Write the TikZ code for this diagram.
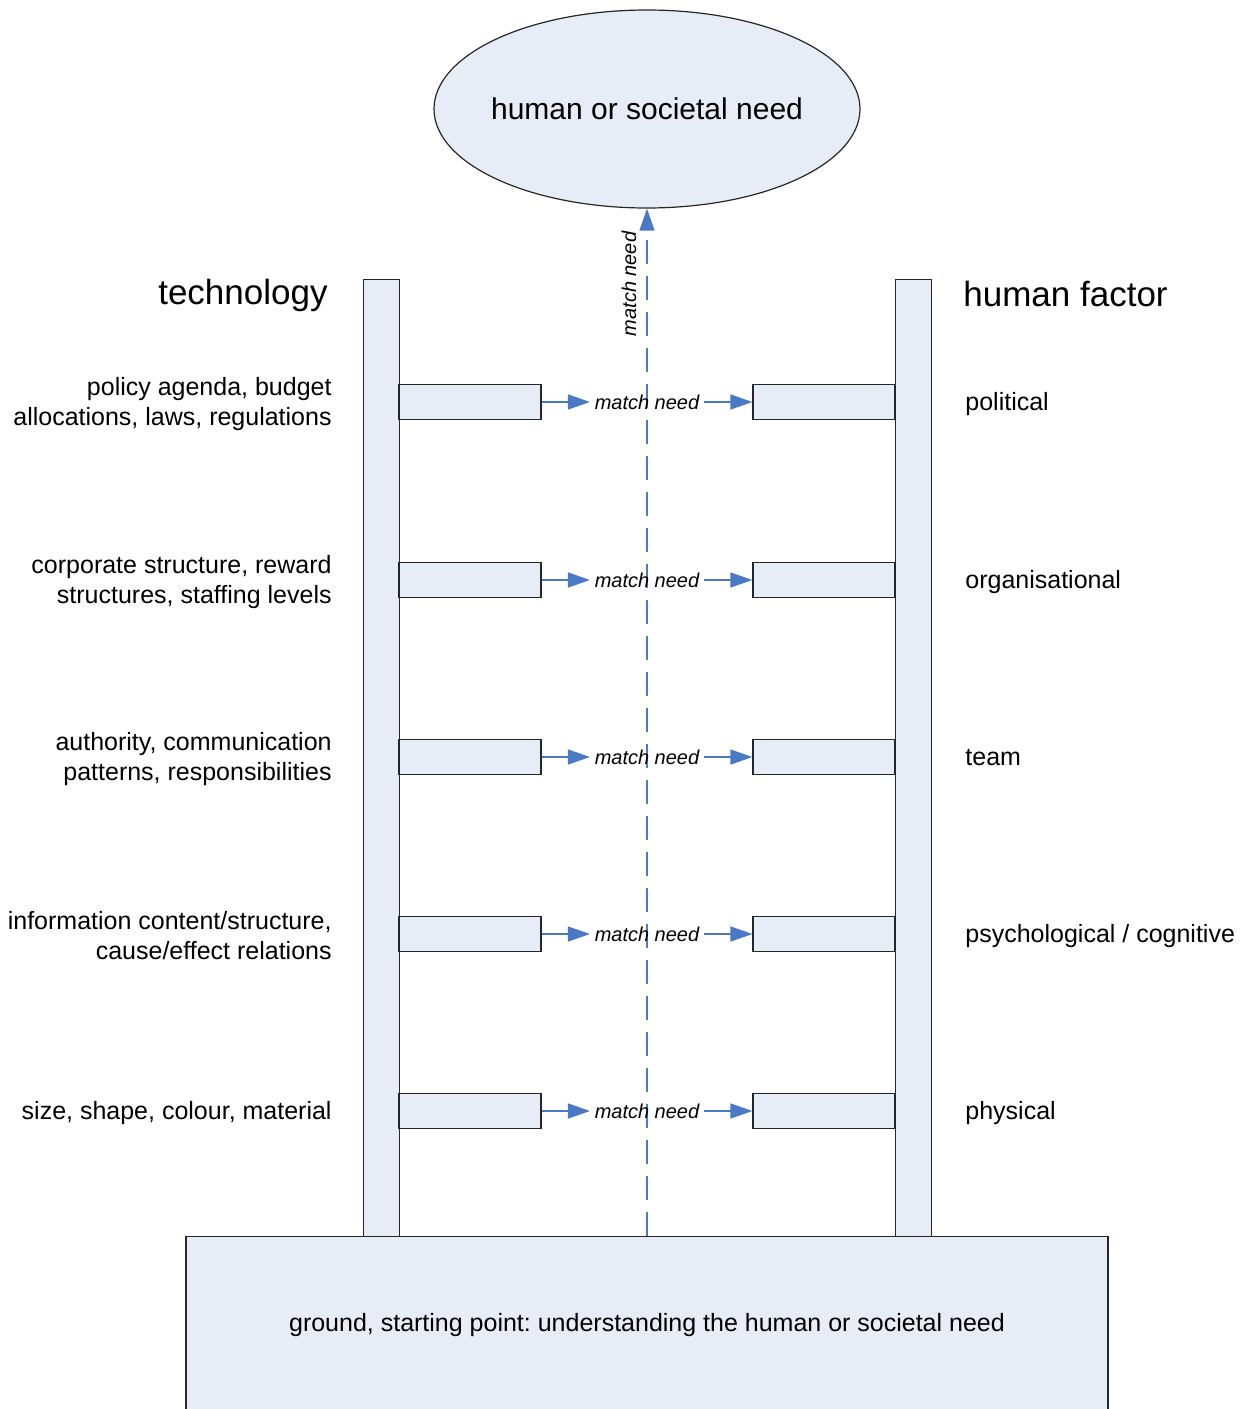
\documentclass[tikz,border=0pt]{standalone}
\usepackage{fontspec}
\setmainfont{Liberation Sans}
\usetikzlibrary{arrows.meta,shapes.geometric}
\definecolor{boxfill}{HTML}{E7EDF7}
\definecolor{linkblue}{HTML}{4A7AC6}
\frenchspacing

\begin{document}
\begin{tikzpicture}[x=0.5pt,y=-0.5pt,
  panel/.style={draw=black!85, fill=boxfill, line width=0.6pt, inner sep=0pt},
  rail/.style={panel, anchor=north west, minimum width=18pt, minimum height=478.5pt},
  rung/.style={panel, minimum width=71pt, minimum height=17.5pt},
  lbl/.style={font=\fontsize{12.5}{15}\selectfont, inner sep=0pt},
  link/.style={draw=linkblue, line width=0.7pt, -{Triangle[length=11pt,width=7.5pt]}},
  tag/.style={font=\fontsize{10}{12}\selectfont\itshape, inner sep=2.2pt},
]
\useasboundingbox (0,0) rectangle (1247,1409);
\clip (0,0) rectangle (1247,1409);

% goal at the top
\node[panel, ellipse, minimum width=213pt, minimum height=99pt] (need) at (647,109) {};
\node[font=\fontsize{15}{18}\selectfont, inner sep=0pt] (needtxt) at (need.center) {human or societal need};

% the two rails of the ladder
\node[rail] (railL) at (363,279) {};
\node[rail] (railR) at (895,279) {};

% ground box the ladder stands on
\node[panel, anchor=north, minimum width=461pt, minimum height=88pt] (ground) at (647,1236) {};
\node[lbl, anchor=base] (groundtxt) at (647,1331)
  {ground, starting point: understanding the human or societal need};

% climb from the ground to the need
\draw[link, dash pattern=on 12pt off 6pt] (ground.north) -- (need.south);
\node[tag, rotate=90, anchor=base] (climb) at (636,284) {match need};

% headings
\node[font=\fontsize{17.5}{20}\selectfont, inner sep=0pt, anchor=base east] (tech) at (328,304) {technology};
\node[font=\fontsize{17.5}{20}\selectfont, inner sep=0pt, anchor=base west] (hf) at (963,306) {human factor};

% rungs: technology side, match, human factor side
\foreach \y/\n/\tl/\hl in {
    402/1/{policy agenda, budget\\allocations, laws, regulations}/{political},
    580/2/{corporate structure, reward\\structures, staffing levels}/{organisational},
    757/3/{authority, communication\\patterns, responsibilities}/{team},
    934/4/{information content/structure,\\cause/effect relations}/{psychological / cognitive},
    1111/5/{size, shape, colour, material}/{physical}}{
  \node[rung] (rl\n) at (470,\y) {};
  \node[rung] (rr\n) at (824,\y) {};
  \node[tag] (m\n) at (647,\y) {match need};
  \draw[link] (rl\n.east) -- (m\n.west);
  \draw[link] (m\n.east) -- (rr\n.west);
  \node[lbl, align=right, anchor=east] (tl\n) at (332,{\y+2}) {\tl};
  \node[lbl, anchor=base west] (hl\n) at (965,{\y+8.5}) {\hl};
}
\end{tikzpicture}
\end{document}
